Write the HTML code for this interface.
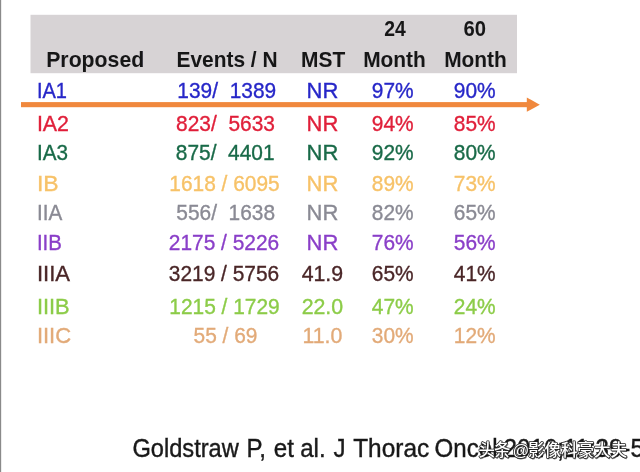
<!DOCTYPE html>
<html><head><meta charset="utf-8"><title>Table</title>
<style>
html,body{margin:0;padding:0;background:#fff;}
body{width:640px;height:472px;overflow:hidden;position:relative;font-family:"Liberation Sans","Noto Sans CJK SC",sans-serif;}
svg{display:block;position:absolute;left:0;top:0;}
text{font-family:"Liberation Sans","Noto Sans CJK SC",sans-serif;}
.h{font-weight:bold;font-size:22.5px;fill:#151518;}
.r{font-size:22px;stroke-width:0.35px;}
.f{font-size:25.5px;fill:#1a1a1a;stroke:#1a1a1a;stroke-width:0.4px;}
.wm{font-size:16.5px;font-weight:500;font-family:"Liberation Sans","Noto Sans CJK SC",sans-serif;}
</style></head><body>
<svg width="640" height="472" viewBox="0 0 640 472">
<defs>
<filter id="b" x="-5%" y="-20%" width="110%" height="140%"><feGaussianBlur stdDeviation="0.72"/></filter>
<filter id="b2" x="-5%" y="-20%" width="110%" height="140%"><feGaussianBlur stdDeviation="0.4"/></filter>
</defs>
<rect x="0" y="0" width="640" height="472" fill="#ffffff"/>
<rect x="0" y="0" width="1" height="472" fill="#8a8a8a"/><rect x="1" y="0" width="1" height="472" fill="#ececec"/>
<rect x="30.5" y="14.8" width="486.5" height="58.4" fill="#d7d3d5" filter="url(#b2)"/>
<g filter="url(#b)">
<text class="h" transform="translate(46.2,66.6) scale(0.945,1)">Proposed</text>
<text class="h" text-anchor="middle" transform="translate(227,66.6) scale(0.93,1)">Events / N</text>
<text class="h" text-anchor="middle" transform="translate(323.2,66.6) scale(0.93,1)">MST</text>
<text class="h" text-anchor="middle" transform="translate(395,36.2) scale(0.86,1)">24</text>
<text class="h" text-anchor="middle" transform="translate(394.5,66.6) scale(0.93,1)">Month</text>
<text class="h" text-anchor="middle" transform="translate(474.8,36.2) scale(0.9,1)">60</text>
<text class="h" text-anchor="middle" transform="translate(475.5,66.6) scale(0.93,1)">Month</text>
<g class="r" fill="#2626c8" stroke="#2626c8">
<text transform="translate(36.9,97.6) scale(0.91,1)">IA1</text>
<text text-anchor="middle" transform="translate(226.75,97.6) scale(0.951,1)">139/&#160; 1389</text>
<text text-anchor="middle" transform="translate(322.4,97.6) scale(1.0,1)">NR</text>
<text text-anchor="middle" transform="translate(392.7,97.6) scale(0.951,1)">97%</text>
<text text-anchor="middle" transform="translate(474.7,97.6) scale(0.951,1)">90%</text>
</g>
<g class="r" fill="#e0203a" stroke="#e0203a">
<text transform="translate(36.9,130.5) scale(0.972,1)">IA2</text>
<text text-anchor="middle" transform="translate(225.5,130.5) scale(0.951,1)">823/&#160; 5633</text>
<text text-anchor="middle" transform="translate(322.4,130.5) scale(1.0,1)">NR</text>
<text text-anchor="middle" transform="translate(392.7,130.5) scale(0.951,1)">94%</text>
<text text-anchor="middle" transform="translate(474.7,130.5) scale(0.951,1)">85%</text>
</g>
<g class="r" fill="#1a6a48" stroke="#1a6a48">
<text transform="translate(36.9,160) scale(0.941,1)">IA3</text>
<text text-anchor="middle" transform="translate(225.2,160) scale(0.951,1)">875/&#160; 4401</text>
<text text-anchor="middle" transform="translate(322.4,160) scale(1.0,1)">NR</text>
<text text-anchor="middle" transform="translate(392.7,160) scale(0.951,1)">92%</text>
<text text-anchor="middle" transform="translate(474.7,160) scale(0.951,1)">80%</text>
</g>
<g class="r" fill="#f7c268" stroke="#f7c268">
<text transform="translate(36.9,190.8) scale(1.045,1)">IB</text>
<text text-anchor="middle" transform="translate(224.5,190.8) scale(0.951,1)">1618 / 6095</text>
<text text-anchor="middle" transform="translate(322.4,190.8) scale(1.0,1)">NR</text>
<text text-anchor="middle" transform="translate(392.7,190.8) scale(0.951,1)">89%</text>
<text text-anchor="middle" transform="translate(474.7,190.8) scale(0.951,1)">73%</text>
</g>
<g class="r" fill="#8a8a94" stroke="#8a8a94">
<text transform="translate(36.9,220) scale(0.941,1)">IIA</text>
<text text-anchor="middle" transform="translate(225.7,220) scale(0.951,1)">556/&#160; 1638</text>
<text text-anchor="middle" transform="translate(322.4,220) scale(1.0,1)">NR</text>
<text text-anchor="middle" transform="translate(392.7,220) scale(0.951,1)">82%</text>
<text text-anchor="middle" transform="translate(474.7,220) scale(0.951,1)">65%</text>
</g>
<g class="r" fill="#8a3fc8" stroke="#8a3fc8">
<text transform="translate(36.9,250) scale(0.93,1)">IIB</text>
<text text-anchor="middle" transform="translate(224,250) scale(0.951,1)">2175 / 5226</text>
<text text-anchor="middle" transform="translate(322.4,250) scale(1.0,1)">NR</text>
<text text-anchor="middle" transform="translate(392.7,250) scale(0.951,1)">76%</text>
<text text-anchor="middle" transform="translate(474.7,250) scale(0.951,1)">56%</text>
</g>
<g class="r" fill="#4a2628" stroke="#4a2628">
<text transform="translate(36.9,281.3) scale(1.004,1)">IIIA</text>
<text text-anchor="middle" transform="translate(224,281.3) scale(0.951,1)">3219 / 5756</text>
<text text-anchor="middle" transform="translate(322.4,281.3) scale(0.97,1)">41.9</text>
<text text-anchor="middle" transform="translate(392.7,281.3) scale(0.951,1)">65%</text>
<text text-anchor="middle" transform="translate(474.7,281.3) scale(0.951,1)">41%</text>
</g>
<g class="r" fill="#8ccc48" stroke="#8ccc48">
<text transform="translate(36.9,313.7) scale(0.993,1)">IIIB</text>
<text text-anchor="middle" transform="translate(224.5,313.7) scale(0.951,1)">1215 / 1729</text>
<text text-anchor="middle" transform="translate(322.4,313.7) scale(0.97,1)">22.0</text>
<text text-anchor="middle" transform="translate(392.7,313.7) scale(0.951,1)">47%</text>
<text text-anchor="middle" transform="translate(474.7,313.7) scale(0.951,1)">24%</text>
</g>
<g class="r" fill="#e2aa78" stroke="#e2aa78">
<text transform="translate(36.9,343.4) scale(1.0,1)">IIIC</text>
<text text-anchor="middle" transform="translate(225.5,343.4) scale(0.951,1)">55 / 69</text>
<text text-anchor="middle" transform="translate(322.4,343.4) scale(0.97,1)">11.0</text>
<text text-anchor="middle" transform="translate(392.7,343.4) scale(0.951,1)">30%</text>
<text text-anchor="middle" transform="translate(474.7,343.4) scale(0.951,1)">12%</text>
</g>
</g>
<g filter="url(#b2)">
<rect x="21" y="102.1" width="508" height="5.1" fill="#f0883c"/>
<polygon points="526.8,97.4 539.8,104.7 526.8,111.8" fill="#f0883c"/>
</g>
<g filter="url(#b2)">
<text class="f" transform="translate(132.4,457.2) scale(0.928,1)">Goldstraw</text>
<text class="f" transform="translate(246.4,457.2) scale(0.945,1)">P,</text>
<text class="f" transform="translate(273.8,457.2) scale(0.945,1)">et</text>
<text class="f" transform="translate(300.2,457.2) scale(0.945,1)">al.</text>
<text class="f" transform="translate(333.5,457.2) scale(0.945,1)">J</text>
<text class="f" transform="translate(353.2,457.2) scale(0.958,1)">Thorac</text>
<text class="f" transform="translate(434.6,457.2) scale(0.945,1)">Oncol</text>
<text class="f" transform="translate(503.6,457.2) scale(0.945,1)">2016;11:39-5</text>
</g>
<g filter="url(#b2)">
<text class="wm" x="479.3 494.8 513.3 528.8 545.3 561.8 578.3 594.8 611.3" y="456.6" fill="#000" stroke="#000" stroke-width="0.8" opacity="0.55">头条@影像科豪大夫</text>
<text class="wm" x="478.5 494 512.5 528 544.5 561 577.5 594 610.5" y="455.8" fill="#fff" stroke="#222" stroke-width="1.5" paint-order="stroke" stroke-linejoin="round">头条@影像科豪大夫</text>
</g>
</svg>
</body></html>
